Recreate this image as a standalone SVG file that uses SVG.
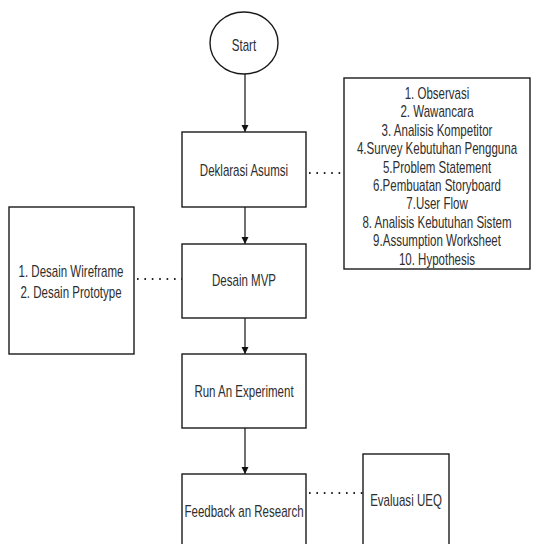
<svg xmlns="http://www.w3.org/2000/svg" width="533" height="544" viewBox="0 0 533 544">
<defs>
<style>
.box{fill:#fff;stroke:#1a1a1a;stroke-width:1.4}
.t{font-family:"Liberation Sans",Arial,sans-serif;font-size:16px;fill:#2e2e2e;text-anchor:middle}
.arr{fill:none;stroke:#111;stroke-width:1.2}
.dot{fill:none;stroke:#222;stroke-width:2;stroke-dasharray:1.6 5.8}
</style>
<marker id="ah" viewBox="0 0 10 10" refX="10" refY="5" markerWidth="7" markerHeight="8" markerUnits="userSpaceOnUse" orient="auto">
<path d="M0,0 L10,5 L0,10 z" fill="#111"/>
</marker>
</defs>
<rect width="533" height="544" fill="#fff"/>
<g id="connectors">
<path class="arr" d="M245,74 V132" marker-end="url(#ah)"/>
<path class="arr" d="M245,207 V244" marker-end="url(#ah)"/>
<path class="arr" d="M245,318 V354" marker-end="url(#ah)"/>
<path class="arr" d="M245,428 V474" marker-end="url(#ah)"/>
<path class="dot" d="M309,173 H344"/>
<path class="dot" d="M137,279 H182"/>
<path class="dot" d="M309,493 H363"/>
</g>
<g id="start">
<ellipse class="box" cx="244" cy="43" rx="34" ry="31"/>
<text class="t" transform="translate(244,50.5) scale(0.72,1)">Start</text>
</g>
<g id="deklarasi">
<rect class="box" x="182" y="132" width="124" height="75"/>
<text class="t" transform="translate(244,175.5) scale(0.72,1)">Deklarasi Asumsi</text>
</g>
<g id="list">
<rect class="box" x="344" y="78" width="186" height="191"/>
<text class="t" transform="translate(437,99) scale(0.72,1)">1. Observasi</text>
<text class="t" transform="translate(437,117.4) scale(0.72,1)">2. Wawancara</text>
<text class="t" transform="translate(437,135.8) scale(0.72,1)">3. Analisis Kompetitor</text>
<text class="t" transform="translate(437,154.2) scale(0.72,1)">4.Survey Kebutuhan Pengguna</text>
<text class="t" transform="translate(437,172.6) scale(0.72,1)">5.Problem Statement</text>
<text class="t" transform="translate(437,191) scale(0.72,1)">6.Pembuatan Storyboard</text>
<text class="t" transform="translate(437,209.4) scale(0.72,1)">7.User Flow</text>
<text class="t" transform="translate(437,227.8) scale(0.72,1)">8. Analisis Kebutuhan Sistem</text>
<text class="t" transform="translate(437,246.2) scale(0.72,1)">9.Assumption Worksheet</text>
<text class="t" transform="translate(437,264.6) scale(0.72,1)">10. Hypothesis</text>
</g>
<g id="desain-list">
<rect class="box" x="9" y="207" width="125" height="147"/>
<text class="t" transform="translate(71,276.5) scale(0.72,1)">1. Desain Wireframe</text>
<text class="t" transform="translate(71,297.5) scale(0.72,1)">2. Desain Prototype</text>
</g>
<g id="desain-mvp">
<rect class="box" x="182" y="244" width="124" height="74"/>
<text class="t" transform="translate(244,285.5) scale(0.72,1)">Desain MVP</text>
</g>
<g id="run">
<rect class="box" x="182" y="354" width="124" height="74"/>
<text class="t" transform="translate(244,396.5) scale(0.72,1)">Run An Experiment</text>
</g>
<g id="feedback">
<rect class="box" x="182" y="474" width="124" height="80"/>
<text class="t" transform="translate(244,516.5) scale(0.72,1)">Feedback an Research</text>
</g>
<g id="ueq">
<rect class="box" x="363" y="454" width="86" height="100"/>
<text class="t" transform="translate(406,505.5) scale(0.72,1)">Evaluasi UEQ</text>
</g>
</svg>
